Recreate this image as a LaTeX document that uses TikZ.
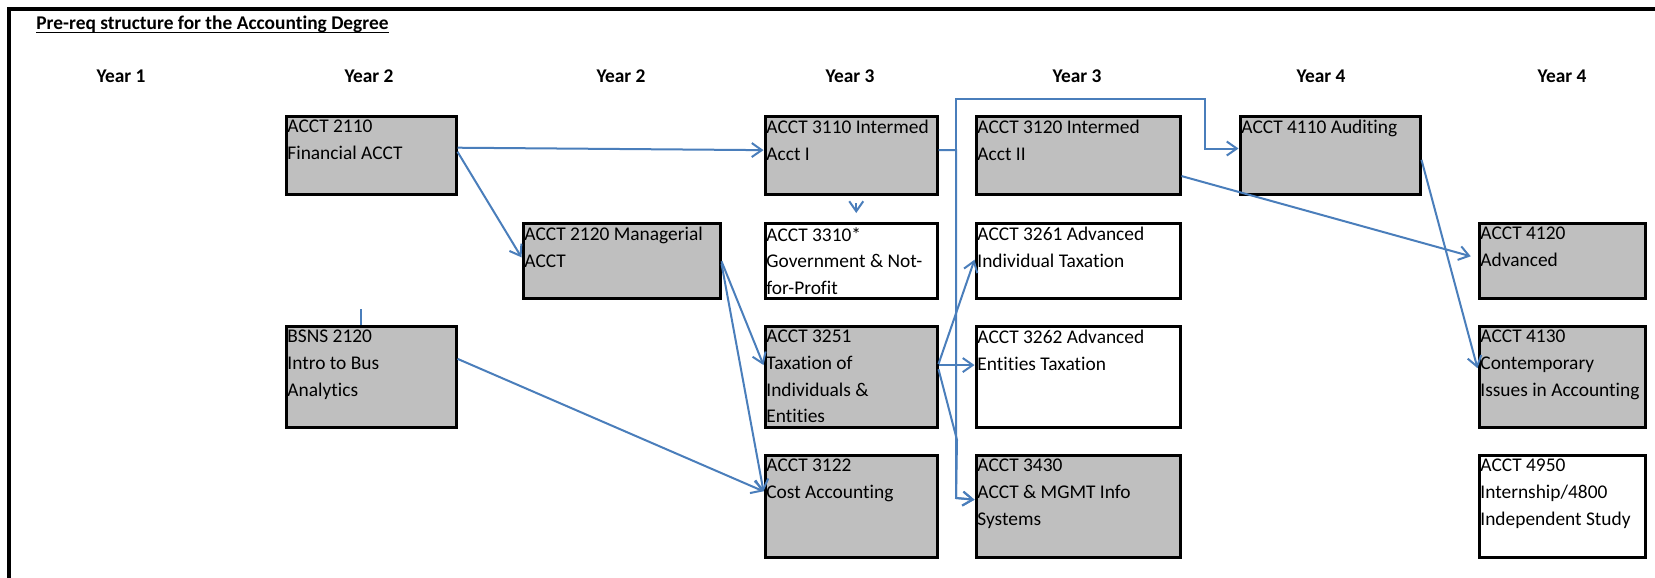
\documentclass[tikz,border=0pt]{standalone}
\usepackage{fontspec}
\setmainfont{Carlito}[Ligatures={NoCommon}]
\usepackage{tikz}
\usetikzlibrary{arrows.meta,positioning,calc}

\definecolor{boxgray}{RGB}{191,191,191}
\definecolor{linkblue}{RGB}{74,126,187}
\newcommand{\coursefont}{\fontsize{9.7}{13.35}\selectfont}

\begin{document}
\begin{tikzpicture}
        [x = 0.5pt, y = -0.5pt, >={Straight Barb[length=5pt,width=7pt]}, font = \coursefont,
        box/.style = {rectangle, draw=black, line width=1.5pt, fill=boxgray, anchor=north west, inner sep=0pt},
        whitebox/.style = {box, fill=white},
        coursetext/.style = {anchor=north west, align=left, inner xsep=1.25pt, inner ysep=0.3pt, yshift=-2.4pt},
        yearhead/.style = {anchor=base, font=\coursefont\bfseries},
        link/.style = {draw=linkblue, line width=1pt}]

        %% page and frame
        \fill[white] (0,0) rectangle (1655,578);
        \useasboundingbox (0,0) rectangle (1655,578);
        \draw[line width=2pt] (8.5,578) -- (8.5,8.5) -- (1655,8.5);

        %% title and year headings
        \node[anchor=base west, inner sep=0pt, font=\coursefont\bfseries] (title) at (36,29.5) {Pre-req structure for the Accounting Degree};
        \draw[line width=0.8pt] ([yshift=-1.5pt]title.base west) -- ([yshift=-1.5pt]title.base east);
        \foreach \x/\yr in {121/1, 369/2, 621/2, 850/3, 1077/3, 1321/4, 1562/4}
            \node[yearhead] (year\x) at (\x,82) {Year \yr};

        %% place courses on canvas
        \node[box, minimum width=85pt, minimum height=39pt,
              label={[coursetext]north west:ACCT 2110\\Financial ACCT}] (acct2110) at (284.5,114.5) {};
        \node[box, minimum width=85pt, minimum height=50.5pt,
              label={[coursetext]north west:BSNS 2120\\Intro to Bus\\Analytics}] (bsns2120) at (284.5,324.5) {};
        \node[box, minimum width=98.5pt, minimum height=37.5pt,
              label={[coursetext]north west:ACCT 2120 Managerial\\ACCT}] (acct2120) at (521.5,221.5) {};

        \node[box, minimum width=86pt, minimum height=39pt,
              label={[coursetext]north west:ACCT 3110 Intermed\\Acct I}] (acct3110) at (763.5,114.5) {};
        \node[whitebox, minimum width=86pt, minimum height=37.5pt,
              label={[coursetext]north west:ACCT 3310*\\Government \& Not-\\for-Profit}] (acct3310) at (763.5,221.5) {};
        \node[box, minimum width=86pt, minimum height=50.5pt,
              label={[coursetext]north west:ACCT 3251\\Taxation of\\Individuals \&\\Entities}] (acct3251) at (763.5,324.5) {};
        \node[box, minimum width=86pt, minimum height=51pt,
              label={[coursetext]north west:ACCT 3122\\Cost Accounting}] (acct3122) at (763.5,453.5) {};

        \node[box, minimum width=102pt, minimum height=39pt,
              label={[coursetext]north west:ACCT 3120 Intermed\\Acct II}] (acct3120) at (974.5,114.5) {};
        \node[whitebox, minimum width=102pt, minimum height=37.5pt,
              label={[coursetext]north west:ACCT 3261 Advanced\\Individual Taxation}] (acct3261) at (974.5,221.5) {};
        \node[whitebox, minimum width=102pt, minimum height=50.5pt,
              label={[coursetext]north west:ACCT 3262 Advanced\\Entities Taxation}] (acct3262) at (974.5,324.5) {};
        \node[box, minimum width=102pt, minimum height=51pt,
              label={[coursetext]north west:ACCT 3430\\ACCT \& MGMT Info\\Systems}] (acct3430) at (974.5,453.5) {};

        \node[box, minimum width=90pt, minimum height=39pt,
              label={[coursetext]north west:ACCT 4110 Auditing}] (acct4110) at (1238.5,114.5) {};

        \node[box, minimum width=83pt, minimum height=37.5pt,
              label={[coursetext]north west:ACCT 4120\\Advanced}] (acct4120) at (1477.5,221.5) {};
        \node[box, minimum width=83pt, minimum height=50.5pt,
              label={[coursetext]north west:ACCT 4130\\Contemporary\\Issues in Accounting}] (acct4130) at (1477.5,324.5) {};
        \node[whitebox, minimum width=83pt, minimum height=51pt,
              label={[coursetext]north west:ACCT 4950\\Internship/4800\\Independent Study}] (acct4950) at (1477.5,453.5) {};

        %% bends of the elbow lines
        \coordinate (bustop)  at (956,99);
        \coordinate (busdrop) at (1205,99);
        \coordinate (busbot)  at (956,498);
        \coordinate (taxbend) at (957,440);
        \coordinate (stubtop) at ($(bsns2120.north west)!0.44!(bsns2120.north east)+(0,-16)$);

        %% connect courses
        \draw[link, ->] ($(acct2110.north east)!0.41!(acct2110.south east)$) -- ($(acct3110.north west)!0.44!(acct3110.south west)$);
        \draw[link, ->] ($(acct2110.north east)!0.46!(acct2110.south east)$) -- ($(acct2120.north west)!0.46!(acct2120.south west)$);
        \draw[link, ->] ($(acct2120.north east)!0.51!(acct2120.south east)$) -- ($(acct3251.north west)!0.39!(acct3251.south west)$);
        \draw[link, ->] ($(acct2120.north east)!0.54!(acct2120.south east)$) -- ($(acct3122.north west)!0.36!(acct3122.south west)$);
        \draw[link, ->] ($(bsns2120.north east)!0.33!(bsns2120.south east)$) -- ($(acct3122.north west)!0.36!(acct3122.south west)$);
        \draw[link] ($(bsns2120.north west)!0.44!(bsns2120.north east)$) -- (stubtop);
        \draw[link, ->, shorten <=3.75pt, shorten >=4.25pt] ($(acct3110.south west)!0.53!(acct3110.south east)$) -- ($(acct3310.north west)!0.53!(acct3310.north east)$);
        \draw[link, ->] ($(acct3110.north east)!0.44!(acct3110.south east)$) -| (bustop) -- (busdrop) |- ($(acct4110.north west)!0.42!(acct4110.south west)$);
        \draw[link, ->] ($(acct3110.north east)!0.44!(acct3110.south east)$) -| (busbot) -- ($(acct3430.north west)!0.44!(acct3430.south west)$);
        \draw[link, ->] ($(acct3251.north east)!0.38!(acct3251.south east)$) -- ($(acct3261.north west)!0.49!(acct3261.south west)$);
        \draw[link, ->] ($(acct3251.north east)!0.39!(acct3251.south east)$) -- ($(acct3262.north west)!0.39!(acct3262.south west)$);
        \draw[link, ->] ($(acct3251.north east)!0.43!(acct3251.south east)$) -- (taxbend) -- (busbot) -- ($(acct3430.north west)!0.44!(acct3430.south west)$);
        \draw[link, ->, shorten >=3.5pt] ($(acct3120.north east)!0.76!(acct3120.south east)$) -- ($(acct4120.north west)!0.47!(acct4120.south west)$);
        \draw[link, ->] ($(acct4110.north east)!0.56!(acct4110.south east)$) -- ($(acct4130.north west)!0.42!(acct4130.south west)$);
    \end{tikzpicture}
\end{document}
